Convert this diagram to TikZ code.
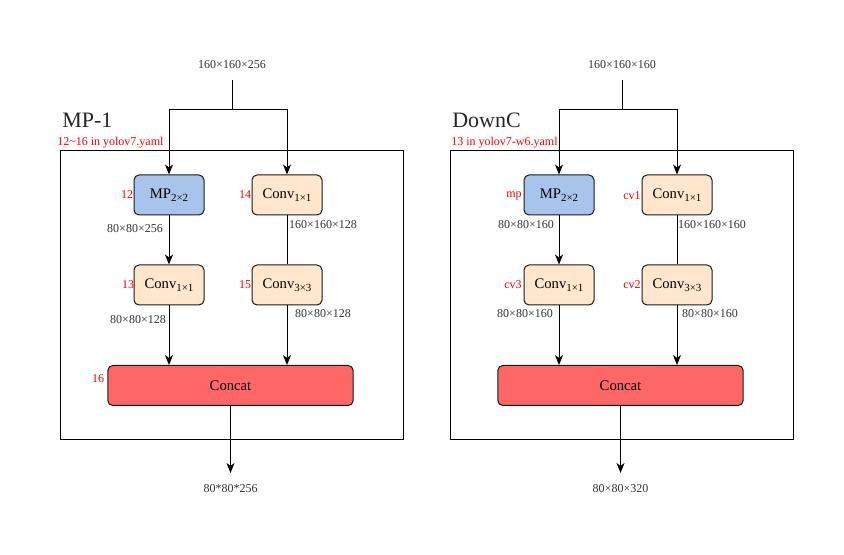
\documentclass[tikz,border=0pt]{standalone}
\usepackage{fontspec}
\setmainfont{Liberation Serif}
\usetikzlibrary{arrows.meta}
\definecolor{mpblue}{HTML}{A9C4EB}
\definecolor{convor}{HTML}{FFE6CC}
\definecolor{catred}{HTML}{FF6666}
\definecolor{lblred}{HTML}{FF0000}
\definecolor{dimgrey}{HTML}{333333}
\newcommand{\blksub}[1]{\raisebox{-2.6pt}{\fontsize{8.2}{9}\selectfont #1}}
\begin{document}
\begin{tikzpicture}[x=0.75pt,y=-0.75pt,
  arr/.style={-{Stealth[length=7.5pt,width=6pt,inset=2.2pt]},line width=0.75pt},
  ln/.style={line width=0.75pt},
  blk/.style={draw=black!90,line width=0.75pt,rounded corners=3.75pt,minimum width=52.5pt,minimum height=30pt,inner sep=0pt,font=\fontsize{11}{12}\selectfont},
  mpbox/.style={blk,fill=mpblue},
  convbox/.style={blk,fill=convor},
  catbox/.style={blk,fill=catred,minimum width=184pt},
  outer/.style={draw=black,line width=0.75pt},
  dim/.style={inner sep=0pt,text=dimgrey,font=\fontsize{9}{10}\selectfont},
  idx/.style={inner sep=0pt,text=lblred,font=\fontsize{9}{10}\selectfont},
  ttl/.style={inner sep=0pt,anchor=base west,text=black!85,font=\fontsize{16.5}{18}\selectfont},
  yml/.style={inner sep=0pt,anchor=base west,text=lblred,font=\fontsize{9}{10}\selectfont}
]
\useasboundingbox (0,0) rectangle (844,555);

% ---------------- Left panel: MP-1 ----------------
\node[outer,minimum width=257.25pt,minimum height=216.75pt,inner sep=0pt] (box1) at (231.5,295.5) {};
\node[ttl] (t1) at (62,128) {MP-1};
\node[yml] (y1) at (57,146) {12\textasciitilde16 in yolov7.yaml};

\node[dim] (in1) at (232,65) {160×160×256};
\coordinate (s1) at (232,80);
\coordinate (j1) at (232,110);

\node[mpbox] (mp12) at (169,195) {MP\blksub{2×2}};
\node[convbox] (cv14) at (287,195) {Conv\blksub{1×1}};
\node[convbox] (cv13) at (169,285) {Conv\blksub{1×1}};
\node[convbox] (cv15) at (287,285) {Conv\blksub{3×3}};
\node[catbox] (cat16) at (230.5,385.5) {Concat};

\node[idx] (n12) at (127,195) {12};
\node[idx] (n14) at (245,195) {14};
\node[idx] (n13) at (128,285) {13};
\node[idx] (n15) at (245,285) {15};
\node[idx] (n16) at (98,379) {16};

\node[dim] (d1a) at (135,229) {80×80×256};
\node[dim] (d1b) at (323,225) {160×160×128};
\node[dim] (d1c) at (138,320) {80×80×128};
\node[dim] (d1d) at (323,314) {80×80×128};

\draw[ln] (s1) -- (j1);
\draw[arr] (j1) -| (mp12.north);
\draw[arr] (j1) -| (cv14.north);
\draw[arr] (mp12) -- (cv13);
\draw[ln] (cv14) -- (cv15);
\draw[arr] (cv13.south) -- (cv13.south |- cat16.north);
\draw[arr] (cv15.south) -- (cv15.south |- cat16.north);
\coordinate (o1) at (230.5,473);
\node[dim] (out1) at (230.5,489) {80*80*256};
\draw[arr] (cat16.south) -- (o1);

% ---------------- Right panel: DownC ----------------
\node[outer,minimum width=257.25pt,minimum height=216.75pt,inner sep=0pt] (box2) at (621.5,295.5) {};
\node[ttl] (t2) at (452,128) {DownC};
\node[yml] (y2) at (451,146) {13 in yolov7-w6.yaml};

\node[dim] (in2) at (622,65) {160×160×160};
\coordinate (s2) at (622,80);
\coordinate (j2) at (622,110);

\node[mpbox] (mp) at (559,195) {MP\blksub{2×2}};
\node[convbox] (cv1) at (677,195) {Conv\blksub{1×1}};
\node[convbox] (cv3) at (559,285) {Conv\blksub{1×1}};
\node[convbox] (cv2) at (677,285) {Conv\blksub{3×3}};
\node[catbox] (cat) at (620.5,385.5) {Concat};

\node[idx] (nmp) at (514,196) {mp};
\node[idx] (ncv1) at (632,196) {cv1};
\node[idx] (ncv3) at (513,285) {cv3};
\node[idx] (ncv2) at (632,285) {cv2};

\node[dim] (d2a) at (526,225) {80×80×160};
\node[dim] (d2b) at (712,225) {160×160×160};
\node[dim] (d2c) at (525,314) {80×80×160};
\node[dim] (d2d) at (710,314) {80×80×160};

\draw[ln] (s2) -- (j2);
\draw[arr] (j2) -| (mp.north);
\draw[arr] (j2) -| (cv1.north);
\draw[arr] (mp) -- (cv3);
\draw[ln] (cv1) -- (cv2);
\draw[arr] (cv3.south) -- (cv3.south |- cat.north);
\draw[arr] (cv2.south) -- (cv2.south |- cat.north);
\coordinate (o2) at (620.5,473);
\node[dim] (out2) at (620.5,489) {80×80×320};
\draw[arr] (cat.south) -- (o2);
\end{tikzpicture}
\end{document}
